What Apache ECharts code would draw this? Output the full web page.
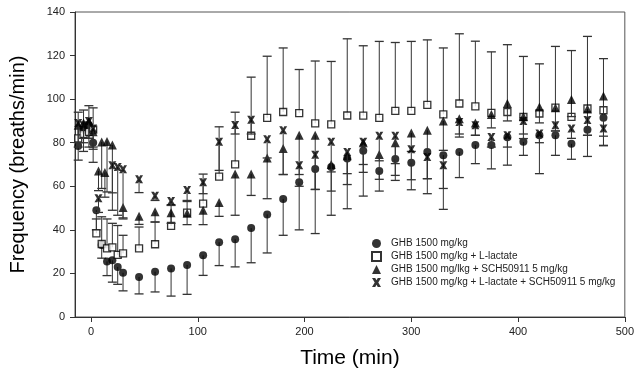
<!DOCTYPE html>
<html>
<head>
<meta charset="utf-8">
<script src="https://cdn.jsdelivr.net/npm/echarts@6/dist/echarts.min.js"></script>
<style>
html,body{margin:0;padding:0;background:#fff;}
#c{width:637px;height:379px;}
</style>
</head>
<body>
<div id="c"></div>
<script>
// ---- data ----
var seriesNames = [
  'GHB 1500 mg/kg',
  'GHB 1500 mg/kg + L-lactate',
  'GHB 1500 mg/lkg + SCH50911 5 mg/kg',
  'GHB 1500 mg/kg + L-lactate + SCH50911 5 mg/kg'
];
var lateTimes = [45,60,75,90,105,120,135,150,165,180,195,210,225,240,255,270,285,300,315,330,345,360,375,390,405,420,435,450,465,480];

// GHB (circles, error bars downward)
var circTimes = [-12,-7,-2,2,5,10,15,20,25,30].concat(lateTimes);
var circVals = [78.5,86,88,80,49,33,25.5,26,23,20.3,
  18.4,20.8,22.3,23.9,28.3,34.3,35.7,40.8,47.1,54.2,61.8,67.9,68.8,72.7,76.3,67,72.5,70.8,75.7,74.3,75.7,79,79,82.5,80.4,83.4,83.4,79.5,86,91.5];
var circBarEnd = [72,76,78,71,40,27,19,16,15,12,
  10.6,11.5,9.6,10.4,19.1,23.6,23,24.9,29.4,37.5,40,38.3,46.7,49.7,55.5,57.8,62.7,58.4,56.6,49.4,64,70.4,68,69.7,74.2,65.8,74.2,72.4,73.7,78.8];

// GHB + L-lactate (open squares, error bars upward)
var sqTimes = [-12,-7,-2,2,5,10,15,20,25,30].concat(lateTimes);
var sqVals = [82,84,85,86,38.4,33.5,31.5,32,28.5,29.2,
  31.5,33.4,41.8,47.9,52,64.4,70.1,83.2,91.4,94.1,93.6,88.9,88.4,92.5,92.4,91.4,94.6,94.6,97.4,93,98,96.7,93.7,94.1,91.8,93.4,96.1,91.9,95.7,94.9];
var sqBarEnd = [94,95,97,96,45,46,45,43,42,37.5,
  41.3,43.6,51.5,53,65.6,87.3,94,110.1,119.7,123.5,113.6,117.5,117.3,127.7,124.5,126.5,126,126.5,127.2,123.5,130,126.6,121.7,125,119.6,116.2,124.2,122.3,128.8,118.6];

// GHB + SCH50911 (triangles, error bars downward)
var triTimes = [-12,-7,-2,2,7,10,13,15,20,30].concat(lateTimes);
var triVals = [88,89,90,85,67,80.3,66.3,80.6,79,50.3,
  46.3,48.3,47.9,47.6,49,52.6,65.6,65.6,73,77.3,83.4,83.4,70,74,80,74.6,80,84.5,85.7,90,91,89,93,98,92,96.4,96,99.8,95.5,101.4];
var triBarEnd = [80,82,82,78,58,59,55,57.4,49,45.5,
  42.5,43.6,43,42.4,42.4,46.2,46.7,55.8,54.3,65.4,65.4,58.5,57.8,65.8,66.4,63.2,65,76,63.5,76.5,82.6,83.4,86.8,90,81.9,89.1,85.4,92,83.4,83];

// GHB + L-lactate + SCH50911 (crosses, error bars downward)
var xTimes = [-12,-7,-2,2,7,20,25,30].concat(lateTimes);
var xVals = [89,88,90,86.5,54.5,69.6,68.8,67.8,
  63.2,55.7,53.2,58.3,61.8,80.4,88.1,90.5,81.6,85.7,69.6,74.5,80.5,75.7,80.4,83.2,83.2,77,73.4,69.6,89.5,88,82.6,83.4,90,84.2,88,86.5,90.4,86.5];
var xBarEnd = [78,80,82,77,48,57,46.7,45,
  57.1,53.5,51.2,53.5,56.6,67.3,84,84,73,65.4,60,58.6,66.6,60.8,70,71.7,70.4,63,63.5,59,84,83.4,78,78,84,80,85.4,82,83.4,78.6];

var xTickValues = [0,100,200,300,400,500];

// ---- build ----
function pts(t, v){ return t.map(function(tt,i){ return [tt, v[i]]; }); }
function bars(t, v, e){ return t.map(function(tt,i){ return [tt, v[i], e[i]]; }); }

var crossPath = 'path://M0,0 L3.6,0 L5,2.4 L6.4,0 L10,0 L7,5 L10,10 L6.4,10 L5,7.6 L3.6,10 L0,10 L3,5 Z';

function errRender(params, api){
  var p1 = api.coord([api.value(0), api.value(1)]);
  var p2 = api.coord([api.value(0), api.value(2)]);
  return {
    type:'group',
    children:[
      {type:'line', shape:{x1:p1[0], y1:p1[1], x2:p2[0], y2:p2[1]}, style:{stroke:'#333', lineWidth:1}},
      {type:'line', shape:{x1:p2[0]-4.5, y1:p2[1], x2:p2[0]+4.5, y2:p2[1]}, style:{stroke:'#333', lineWidth:1.3}}
    ]
  };
}
function errSeries(t, v, e, z){
  return {type:'custom', renderItem:errRender, data:bars(t,v,e), encode:{x:0, y:[1,2]}, z:z, silent:true, clip:false};
}

var chart = echarts.init(document.getElementById('c'), null, {renderer:'canvas'});
var font = 'Arial, "Liberation Sans", sans-serif';
chart.setOption({
  animation:false,
  backgroundColor:'#fff',
  grid:{left:73, right:12, top:12, bottom:62, show:true, borderColor:'#555', borderWidth:1},
  xAxis:{
    type:'value', min:-15, max:500,
    name:'Time (min)', nameLocation:'middle', nameGap:31,
    nameTextStyle:{fontFamily:font, fontSize:21, color:'#000'},
    axisLine:{show:true, onZero:false, lineStyle:{color:'#333', width:1}},
    axisTick:{show:true, inside:false, length:5, customValues:xTickValues, lineStyle:{color:'#333'}},
    axisLabel:{customValues:xTickValues, fontFamily:font, fontSize:11, color:'#222', margin:9},
    splitLine:{show:false}
  },
  yAxis:{
    type:'value', min:0, max:140, interval:20,
    name:'Frequency (breaths/min)', nameLocation:'middle', nameGap:47,
    nameTextStyle:{fontFamily:font, fontSize:20, color:'#000'},
    axisLine:{show:true, onZero:false, lineStyle:{color:'#333', width:1}},
    axisTick:{show:true, inside:false, length:5, lineStyle:{color:'#333'}},
    axisLabel:{fontFamily:font, fontSize:11, color:'#222', margin:10},
    splitLine:{show:false}
  },
  legend:{
    data:seriesNames, orient:'vertical', left:371, top:238, padding:0,
    itemWidth:9, itemHeight:9, itemGap:2,
    textStyle:{fontFamily:font, fontSize:10, color:'#222', lineHeight:11, padding:[0,0,0,5]}
  },
  series:[
    errSeries(circTimes, circVals, circBarEnd, 2),
    {name:seriesNames[0], type:'scatter', data:pts(circTimes,circVals), symbol:'circle', symbolSize:8,
      itemStyle:{color:'#000'}, z:3},
    errSeries(sqTimes, sqVals, sqBarEnd, 4),
    {name:seriesNames[1], type:'scatter', data:pts(sqTimes,sqVals), symbol:'rect', symbolSize:7,
      itemStyle:{color:'#fff', borderColor:'#000', borderWidth:1.3}, z:5},
    errSeries(triTimes, triVals, triBarEnd, 6),
    {name:seriesNames[2], type:'scatter', data:pts(triTimes,triVals), symbol:'triangle', symbolSize:9,
      itemStyle:{color:'#000'}, z:7},
    errSeries(xTimes, xVals, xBarEnd, 8),
    {name:seriesNames[3], type:'scatter', data:pts(xTimes,xVals), symbol:crossPath, symbolSize:8,
      itemStyle:{color:'#000'}, z:9}
  ]
});
</script>
</body>
</html>
